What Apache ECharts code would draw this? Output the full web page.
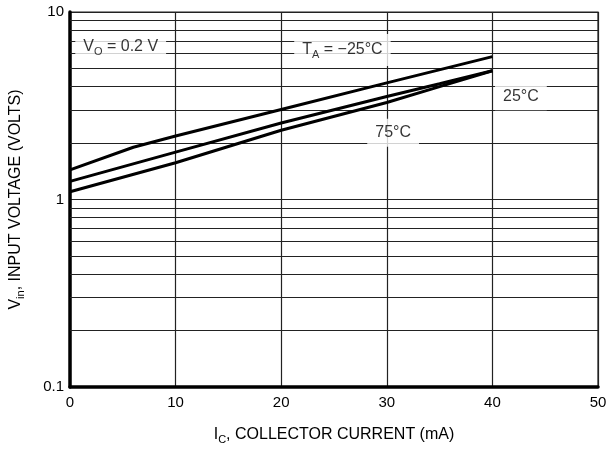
<!DOCTYPE html>
<html>
<head>
<meta charset="utf-8">
<script src="https://cdn.jsdelivr.net/npm/echarts@6/dist/echarts.min.js"></script>
<style>html,body{margin:0;padding:0;background:#fff;}#c{width:610px;height:450px;}</style>
</head>
<body>
<div id="c"></div>
<script>
// ---- data ----
var xTicks = [0, 10, 20, 30, 40, 50];
var yTicks = [0.1, 1, 10];
var minorGrid = [0.2, 0.3, 0.4, 0.5, 0.6, 0.7, 0.8, 0.9, 2, 3, 4, 5, 6, 7, 8, 9];
var icM25 = [0, 6, 10, 20, 30, 40];
var vinM25 = [1.44, 1.90, 2.18, 3.02, 4.19, 5.78];
var icP25 = [0, 10, 20, 30, 35, 40];
var vinP25 = [1.25, 1.79, 2.56, 3.54, 4.14, 4.86];
var icP75 = [0, 10, 20, 30, 35, 40];
var vinP75 = [1.10, 1.57, 2.34, 3.29, 4.00, 4.86];
var noteText = ['VO', 'TA', '25', '75'];
var noteX = [4.8, 25.8, 42.7, 30.6];
var noteY = [6.5, 6.27, 3.55, 2.27];

function pairs(xs, ys) { return xs.map(function (x, i) { return [x, ys[i]]; }); }

var FF = '"Liberation Sans", Arial, Helvetica, sans-serif';
var fs = 16;
var fsTick = 15;
var fsSub = 11;

var rich = {
  b: { fontFamily: FF, fontSize: fs, color: '#000' },
  s: { fontFamily: FF, fontSize: fsSub, color: '#000', padding: [9, 0, 0, 0] }
};
var noteFormat = {
  VO: '{b|V}{s|O}{b| = 0.2 V}',
  TA: '{b|T}{s|A}{b| = \u221225\u00B0C}',
  '25': '{b|25\u00B0C}',
  '75': '{b|75\u00B0C}'
};

var chart = echarts.init(document.getElementById('c'), null, { renderer: 'canvas' });
var curveStyle = { color: '#000', width: 3 };
chart.setOption({
  animation: false,
  backgroundColor: '#fff',
  grid: { left: 70, right: 12, top: 12, bottom: 62, show: true, borderColor: '#222', borderWidth: 1.2, backgroundColor: 'transparent' },
  xAxis: {
    type: 'value', min: xTicks[0], max: xTicks[xTicks.length - 1], interval: 10,
    name: '{b|I}{s|C}{b|, COLLECTOR CURRENT (mA)}',
    nameLocation: 'middle', nameGap: 38,
    nameTextStyle: { rich: rich },
    axisLine: { show: true, onZero: false, lineStyle: { color: '#000', width: 3.5 } },
    axisTick: { show: false },
    axisLabel: { fontFamily: FF, fontSize: fsTick, color: '#000', margin: 8 },
    splitLine: { show: true, lineStyle: { color: '#222', width: 1.2 } }
  },
  yAxis: {
    type: 'log', logBase: 10, min: yTicks[0], max: yTicks[yTicks.length - 1],
    name: '{b|V}{s|in}{b|, INPUT VOLTAGE (VOLTS)}',
    nameLocation: 'middle', nameGap: 44, nameRotate: 90,
    nameTextStyle: { rich: rich },
    axisLine: { show: true, onZero: false, lineStyle: { color: '#000', width: 3.5 } },
    axisTick: { show: false },
    axisLabel: { fontFamily: FF, fontSize: fsTick, color: '#000', margin: 6 },
    splitLine: { show: true, lineStyle: { color: '#222', width: 1.2 } }
  },
  series: [
    {
      type: 'line', data: pairs(icM25, vinM25), symbol: 'none', lineStyle: curveStyle, z: 5,
      markLine: {
        silent: true, symbol: ['none', 'none'], label: { show: false },
        lineStyle: { color: '#222', width: 1.2, type: 'solid' },
        data: minorGrid.map(function (v) { return { yAxis: v }; }), z: 1
      }
    },
    { type: 'line', data: pairs(icP25, vinP25), symbol: 'none', lineStyle: curveStyle, z: 5 },
    { type: 'line', data: pairs(icP75, vinP75), symbol: 'none', lineStyle: curveStyle, z: 5 },
    {
      type: 'scatter', symbolSize: 0, z: 4,
      data: noteText.map(function (t, i) { return { value: [noteX[i], noteY[i]], name: t }; }),
      label: {
        show: true, position: 'inside', backgroundColor: '#fff', padding: [6, 8, 6, 8],
        formatter: function (p) { return noteFormat[p.name]; }, rich: rich
      }
    }
  ]
});
</script>
</body>
</html>
